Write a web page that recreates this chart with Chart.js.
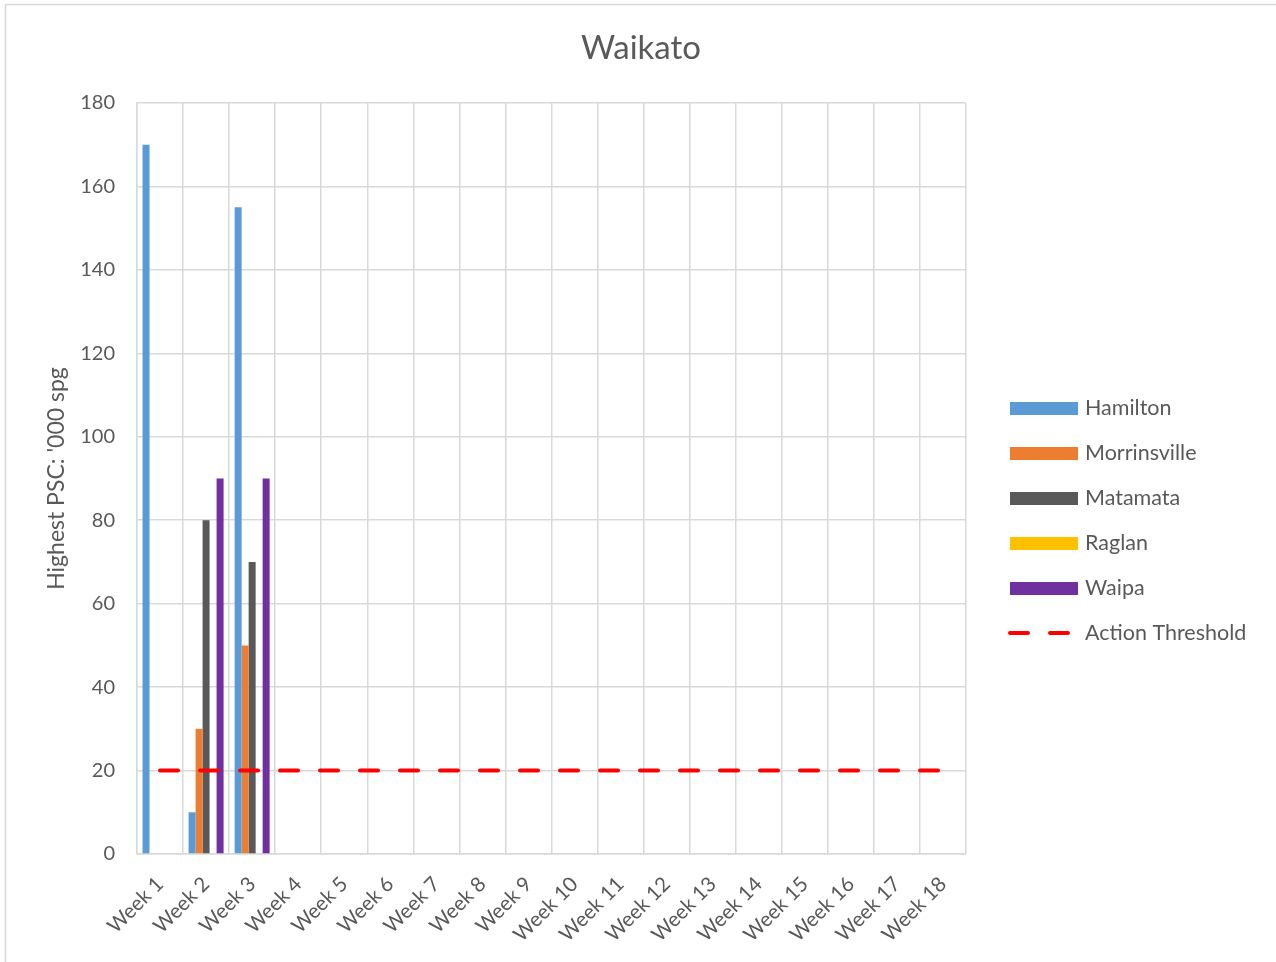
<!DOCTYPE html>
<html lang="en">
<head>
  <meta charset="UTF-8">
  <title>Waikato</title>
  <script src="https://cdn.jsdelivr.net/npm/chart.js"></script>
  <style>
    body { margin: 0; background: #fff; }
    #wrap { width: 1276px; height: 962px; position: relative; }
  </style>
</head>
<body>
  <div id="wrap"><canvas id="waikatoChart"></canvas></div>

  <script>
    const weeks = ["Week 1", "Week 2", "Week 3", "Week 4", "Week 5", "Week 6", "Week 7", "Week 8", "Week 9",
      "Week 10", "Week 11", "Week 12", "Week 13", "Week 14", "Week 15", "Week 16", "Week 17", "Week 18"];
    const hamilton = [170, 10, 155, 0, 0, 0, 0, 0, 0, 0, 0, 0, 0, 0, 0, 0, 0, 0];
    const morrinsville = [0, 30, 50, 0, 0, 0, 0, 0, 0, 0, 0, 0, 0, 0, 0, 0, 0, 0];
    const matamata = [0, 80, 70, 0, 0, 0, 0, 0, 0, 0, 0, 0, 0, 0, 0, 0, 0, 0];
    const raglan = [0, 0, 0, 0, 0, 0, 0, 0, 0, 0, 0, 0, 0, 0, 0, 0, 0, 0];
    const waipa = [0, 90, 90, 0, 0, 0, 0, 0, 0, 0, 0, 0, 0, 0, 0, 0, 0, 0];
    const threshold = [20, 20, 20, 20, 20, 20, 20, 20, 20, 20, 20, 20, 20, 20, 20, 20, 20, 20];
    const yTicks = [0, 20, 40, 60, 80, 100, 120, 140, 160, 180];

    const font = "Lato, 'Open Sans', sans-serif";
    const grey = "#595959";
    const gridColor = "#d9d9d9";

    function bar(label, data, color) {
      return { type: "bar", label, data, backgroundColor: color, borderWidth: 0,
        categoryPercentage: 0.76, barPercentage: 1, order: 2 };
    }

    // frame, title and legend are drawn by hand so they sit where the original has them
    const extras = {
      id: "extras",
      beforeDraw(chart) {
        const ctx = chart.ctx;
        ctx.save();
        ctx.strokeStyle = gridColor;
        ctx.lineWidth = 1.5;
        ctx.beginPath();
        ctx.moveTo(5.5, 962);
        ctx.lineTo(5.5, 4.5);
        ctx.lineTo(1276, 4.5);
        ctx.stroke();
        ctx.restore();
      },
      afterDraw(chart) {
        const ctx = chart.ctx;
        ctx.save();
        ctx.fillStyle = grey;
        ctx.font = "33px " + font;
        ctx.textAlign = "center";
        ctx.textBaseline = "middle";
        ctx.fillText("Waikato", 641, 48);

        ctx.font = "21.5px " + font;
        ctx.textAlign = "left";
        chart.data.datasets.forEach((ds, i) => {
          const y = 408 + i * 45;
          if (ds.type === "line") {
            ctx.strokeStyle = ds.borderColor;
            ctx.lineWidth = 4;
            ctx.lineCap = "round";
            ctx.setLineDash([18, 22]);
            ctx.beginPath();
            ctx.moveTo(1010, y);
            ctx.lineTo(1070, y);
            ctx.stroke();
            ctx.setLineDash([]);
          } else {
            ctx.fillStyle = ds.backgroundColor;
            ctx.fillRect(1010, y - 6, 68, 13);
          }
          ctx.fillStyle = grey;
          ctx.fillText(ds.label, 1085, y);
        });
        ctx.restore();
      }
    };

    new Chart(document.getElementById("waikatoChart"), {
      data: {
        labels: weeks,
        datasets: [
          bar("Hamilton", hamilton, "#5b9bd5"),
          bar("Morrinsville", morrinsville, "#ed7d31"),
          bar("Matamata", matamata, "#595959"),
          bar("Raglan", raglan, "#ffc000"),
          bar("Waipa", waipa, "#7030a0"),
          {
            type: "line",
            label: "Action Threshold",
            data: threshold,
            borderColor: "#ff0000",
            borderWidth: 4,
            borderDash: [18, 22],
            borderCapStyle: "round",
            pointRadius: 0,
            fill: false,
            order: 1
          }
        ]
      },
      options: {
        responsive: true,
        maintainAspectRatio: false,
        animation: false,
        layout: { padding: { left: 0, right: 310, bottom: 0, top: 103 } },
        plugins: {
          legend: { display: false },
          tooltip: { enabled: false },
          title: { display: false }
        },
        scales: {
          x: {
            grid: { color: gridColor, lineWidth: 1.5, drawTicks: false, offset: true },
            border: { color: gridColor, width: 1.5 },
            ticks: { color: grey, font: { family: font, size: 20.5 }, minRotation: 45, maxRotation: 45,
              padding: 18, autoSkip: false },
            afterFit(scale) { scale.height = 108; }
          },
          y: {
            min: 0,
            max: 180,
            afterBuildTicks(scale) { scale.ticks = yTicks.map(v => ({ value: v })); },
            grid: { color: gridColor, lineWidth: 1.5, drawTicks: false },
            border: { color: gridColor, width: 1.5 },
            ticks: { color: grey, font: { family: font, size: 20 }, padding: 22 },
            title: {
              display: true,
              text: "Highest PSC: '000 spg",
              color: grey,
              font: { family: font, size: 23 },
              padding: { top: 43, bottom: 0 }
            },
            afterFit(scale) { scale.width = 137; }
          }
        }
      },
      plugins: [extras]
    });
  </script>
</body>
</html>
